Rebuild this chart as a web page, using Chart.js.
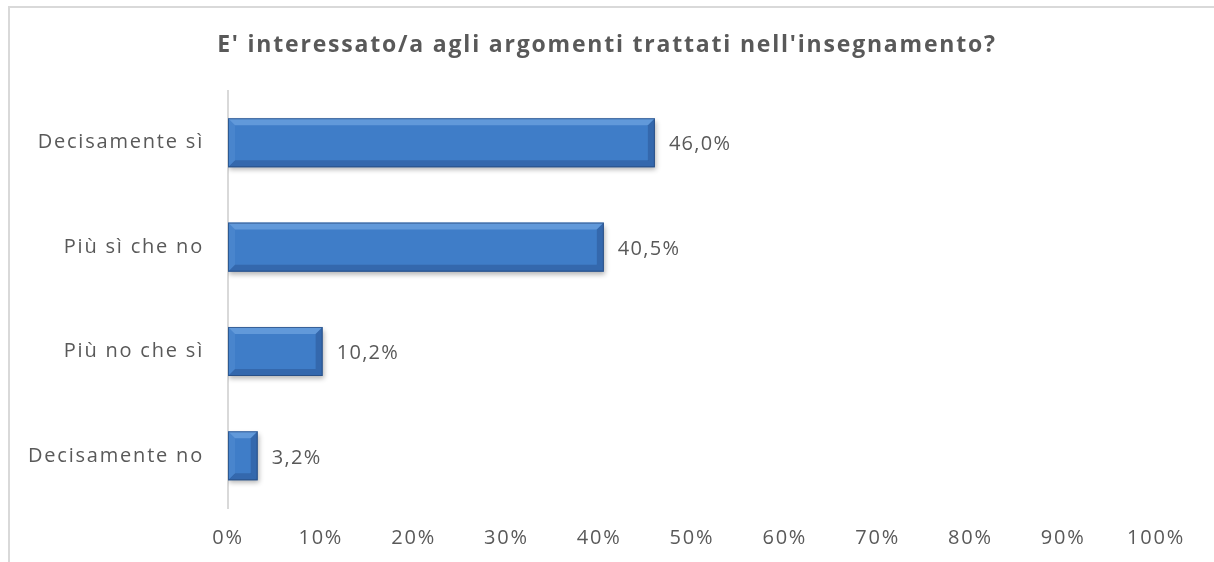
<!DOCTYPE html>
<html><head><meta charset="utf-8">
<script src="https://cdn.jsdelivr.net/npm/chart.js@4"></script>
<style>
html,body{margin:0;padding:0;background:#fff;overflow:hidden;width:1214px;height:562px}
#frame{position:absolute;left:8px;top:6px;width:1300px;height:700px;border:2px solid #d9d9d9;box-sizing:border-box}
#c{position:absolute;left:0;top:0}
</style></head>
<body>
<div id="frame"></div>
<canvas id="c" width="1214" height="562"></canvas>
<script>
const chartTitle = "E' interessato/a agli argomenti trattati nell'insegnamento?";
const categories = ["Decisamente sì", "Più sì che no", "Più no che sì", "Decisamente no"];
const values = [46.0, 40.5, 10.2, 3.2];
const tickMax = 100;
const tickStep = 10;

const textColor = '#595959';
const FONT = "'Open Sans', sans-serif";
const SPACING = '1.3px';
const TITLE_SPACING = '1.8px';

const spacingPlugin = {
  id: 'spacing',
  beforeLayout(chart) { chart.ctx.letterSpacing = SPACING; },
  beforeDraw(chart) { chart.ctx.letterSpacing = SPACING; }
};

const barStylePlugin = {
  id: 'barStyle',
  beforeDatasetsDraw(chart) {
    const ctx = chart.ctx;
    ctx.save();
    ctx.shadowColor = 'rgba(0,0,0,0.3)';
    ctx.shadowBlur = 5;
    ctx.shadowOffsetX = 1;
    ctx.shadowOffsetY = 3;
  },
  afterDatasetsDraw(chart) {
    const ctx = chart.ctx;
    ctx.restore();
    const meta = chart.getDatasetMeta(0);
    meta.data.forEach((el, i) => {
      const p = el.getProps(['x', 'y', 'base', 'height'], true);
      const l = Math.min(p.x, p.base), r = Math.max(p.x, p.base);
      const t = p.y - p.height / 2, b = p.y + p.height / 2;
      const bv = Math.min(7, (r - l) / 2, (b - t) / 2);
      const poly = (pts, fill) => {
        ctx.beginPath();
        ctx.moveTo(pts[0][0], pts[0][1]);
        for (let k = 1; k < pts.length; k++) ctx.lineTo(pts[k][0], pts[k][1]);
        ctx.closePath();
        ctx.fillStyle = fill;
        ctx.fill();
      };
      ctx.save();
      poly([[l, t], [r, t], [r - bv, t + bv], [l + bv, t + bv]], 'rgba(150,195,245,0.4)');
      poly([[l, b], [r, b], [r - bv, b - bv], [l + bv, b - bv]], 'rgba(20,45,90,0.25)');
      poly([[l, t], [l + bv, t + bv], [l + bv, b - bv], [l, b]], 'rgba(120,170,230,0.18)');
      poly([[r, t], [r - bv, t + bv], [r - bv, b - bv], [r, b]], 'rgba(20,45,90,0.25)');
      ctx.strokeStyle = 'rgba(35,70,120,0.7)';
      ctx.lineWidth = 1;
      ctx.strokeRect(l + 0.5, t + 0.5, r - l - 1, b - t - 1);
      // value label
      ctx.letterSpacing = SPACING;
      ctx.fillStyle = textColor;
      ctx.font = "20px " + FONT;
      ctx.textAlign = 'left';
      ctx.textBaseline = 'middle';
      ctx.fillText(values[i].toFixed(1).replace('.', ',') + '%', r + 14, p.y + 2);
      ctx.restore();
    });
  }
};

const titleSpacingPlugin = {
  id: 'titleSpacing',
  beforeDraw(chart) { chart.ctx.letterSpacing = TITLE_SPACING; },
  afterDraw(chart) { chart.ctx.letterSpacing = SPACING; }
};

new Chart(document.getElementById('c'), {
  type: 'bar',
  data: {
    labels: categories,
    datasets: [{
      data: values,
      barPercentage: 0.47,
      categoryPercentage: 1,
      borderWidth: 0,
      backgroundColor(ctx) {
        const el = ctx.element;
        if (!el) return '#3f7dc8';
        const p = el.getProps(['y', 'height'], true);
        if (!p.height) return '#3f7dc8';
        const g = ctx.chart.ctx.createLinearGradient(0, p.y - p.height / 2, 0, p.y + p.height / 2);
        g.addColorStop(0, '#5a95dc');
        g.addColorStop(0.35, '#417fca');
        g.addColorStop(0.8, '#3a75bd');
        g.addColorStop(1, '#2d5f9e');
        return g;
      }
    }]
  },
  options: {
    indexAxis: 'y',
    responsive: false,
    animation: false,
    layout: { padding: 0 },
    plugins: {
      legend: { display: false },
      tooltip: { enabled: false },
      title: {
        display: true,
        text: chartTitle,
        color: textColor,
        font: { family: FONT, size: 23, weight: 'bold', lineHeight: 1.2 },
        padding: { top: 32, bottom: 31 }
      }
    },
    scales: {
      x: {
        min: 0, max: tickMax,
        grid: { display: false, drawTicks: false },
        border: { display: false },
        ticks: {
          stepSize: tickStep,
          padding: 18,
          color: textColor,
          font: { family: FONT, size: 20 },
          callback: v => v + '%'
        },
        afterFit(s) { s.height = 54; }
      },
      y: {
        grid: { display: false, drawTicks: false },
        border: { display: true, color: '#d9d9d9', width: 2 },
        ticks: {
          padding: 24,
          color: textColor,
          font: { family: FONT, size: 20 }
        },
        afterFit(s) { s.width = 228; }
      },
      y2: {
        position: 'right',
        display: true,
        grid: { display: false, drawTicks: false },
        border: { display: false },
        ticks: { display: false },
        afterFit(s) { s.width = 58; }
      }
    }
  },
  plugins: [spacingPlugin, titleSpacingPlugin, barStylePlugin]
});
</script>
</body></html>
